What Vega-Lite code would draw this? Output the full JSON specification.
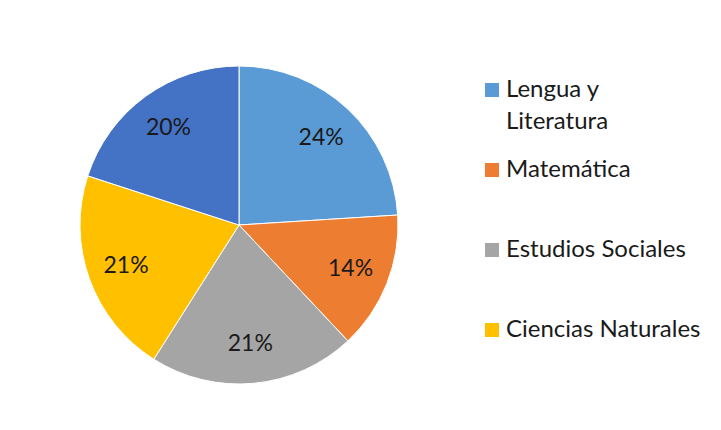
{
  "$schema": "https://vega.github.io/schema/vega-lite/v6.json",
  "width": 464,
  "height": 432,
  "autosize": {"type": "none"},
  "padding": {"left": 7, "top": 9, "right": 250, "bottom": 0},
  "background": "white",
  "config": {
    "view": {"stroke": null},
    "font": "Lato",
    "style": {"guide-label": {"lineHeight": 32}}
  },
  "data": {
    "values": [
      {"materia": "Lengua y Literatura", "pct": 24},
      {"materia": "Matemática", "pct": 14},
      {"materia": "Estudios Sociales", "pct": 21},
      {"materia": "Ciencias Naturales", "pct": 21},
      {"materia": "Otras", "pct": 20}
    ]
  },
  "transform": [
    {"calculate": "indexof(['Lengua y Literatura','Matemática','Estudios Sociales','Ciencias Naturales','Otras'], datum.materia)", "as": "orden"},
    {"calculate": "datum.pct + '%'", "as": "lbl"}
  ],
  "encoding": {
    "theta": {"field": "pct", "type": "quantitative", "stack": true},
    "order": {"field": "orden", "type": "quantitative"},
    "color": {
      "field": "materia",
      "type": "nominal",
      "sort": ["Lengua y Literatura", "Matemática", "Estudios Sociales", "Ciencias Naturales", "Otras"],
      "scale": {
        "domain": ["Lengua y Literatura", "Matemática", "Estudios Sociales", "Ciencias Naturales", "Otras"],
        "range": ["#5B9BD5", "#ED7D31", "#A5A5A5", "#FFC000", "#4472C4"]
      },
      "legend": {
        "title": null,
        "values": ["Lengua y Literatura", "Matemática", "Estudios Sociales", "Ciencias Naturales"],
        "orient": "none",
        "legendX": 473,
        "legendY": 69,
        "padding": 0,
        "symbolType": "square",
        "symbolSize": 196,
        "symbolStrokeWidth": 0,
        "labelFont": "Lato",
        "labelFontSize": 24,
        "labelColor": "#1a1a1a",
        "labelOffset": 2,
        "labelLimit": 300,
        "rowPadding": 24,
        "labelExpr": "datum.label == 'Lengua y Literatura' ? ['Lengua y', 'Literatura'] : [datum.label, '']"
      }
    }
  },
  "layer": [
    {"mark": {"type": "arc", "outerRadius": 159, "stroke": "white", "strokeWidth": 1}},
    {
      "mark": {"type": "text", "radius": 120, "fontSize": 23, "font": "Lato"},
      "encoding": {
        "text": {"field": "lbl", "type": "nominal"},
        "color": {"value": "#1a1a1a"}
      }
    }
  ]
}
